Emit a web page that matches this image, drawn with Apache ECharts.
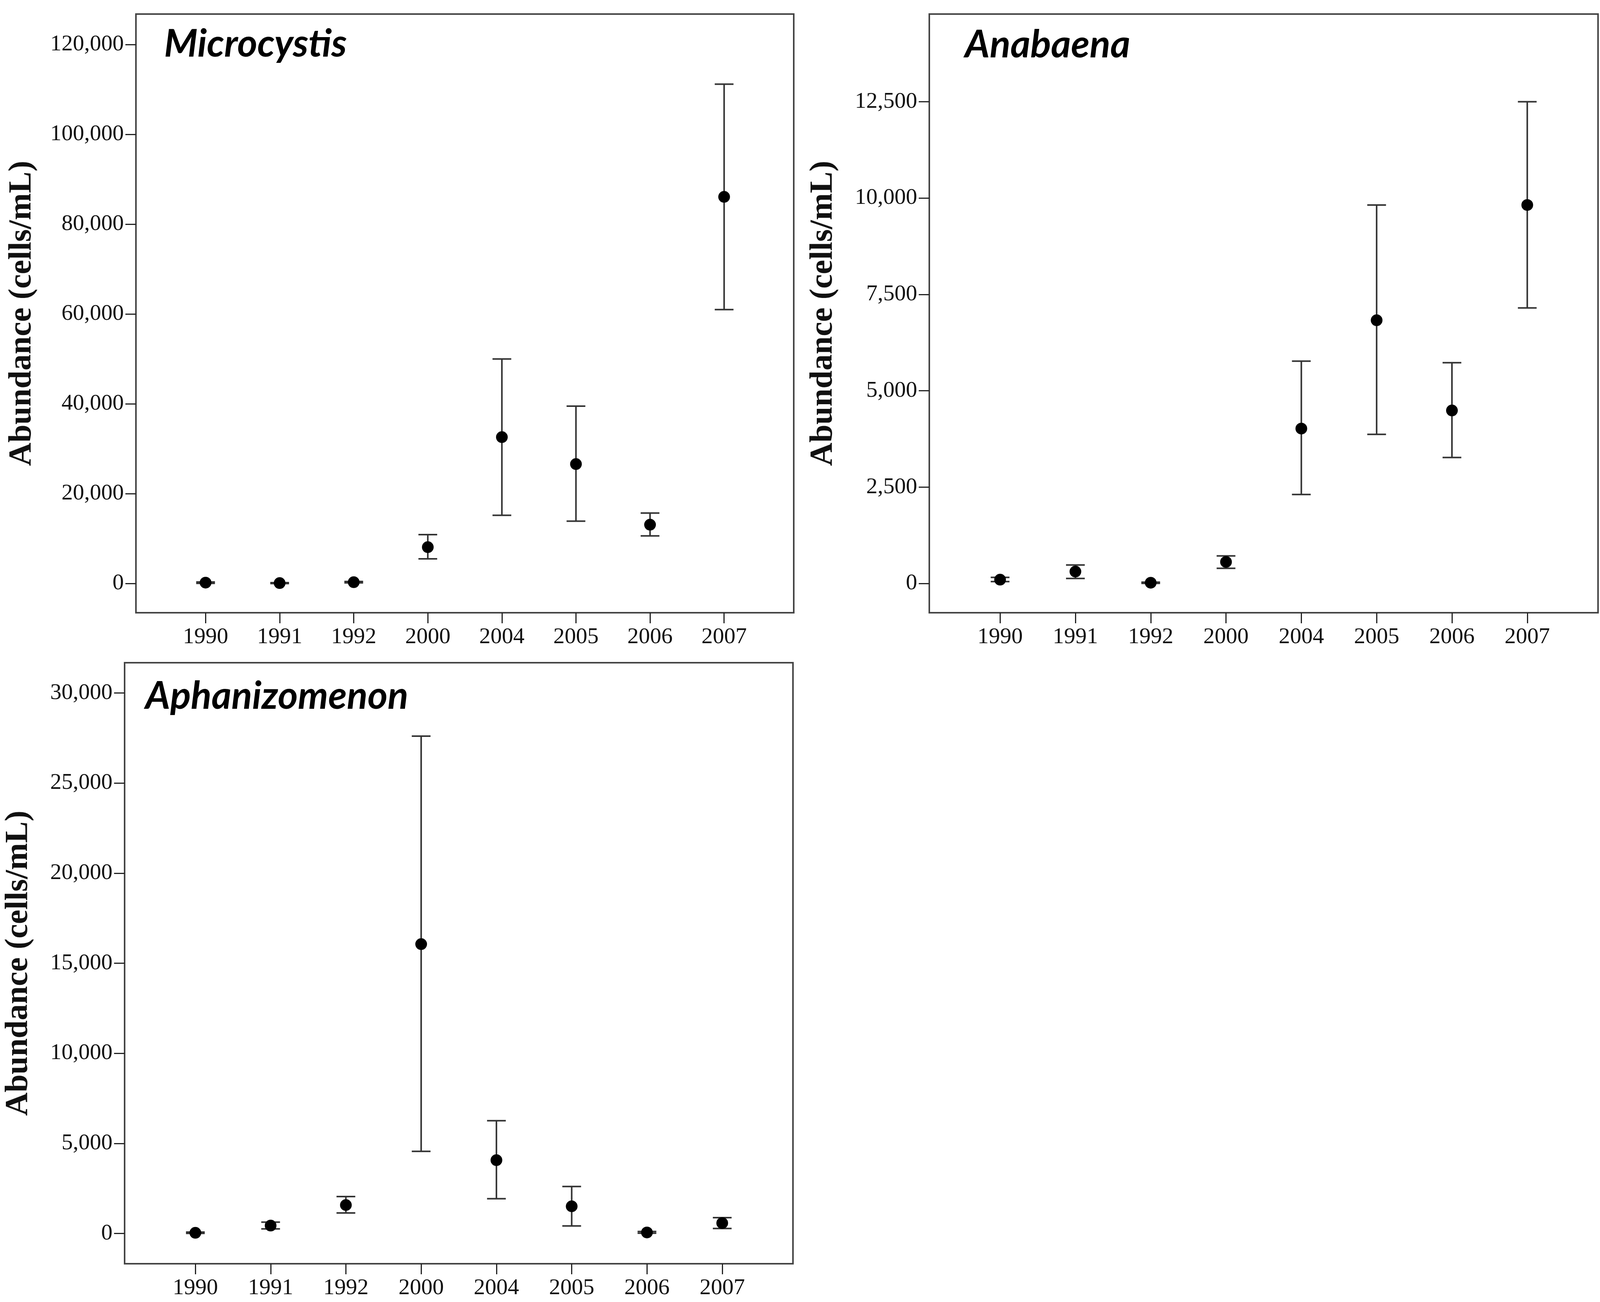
<!DOCTYPE html>
<html>
<head>
<meta charset="utf-8">
<script src="https://cdn.jsdelivr.net/npm/echarts@6/dist/echarts.min.js"></script>
<style>
html,body{margin:0;padding:0;background:#fff;}
#chart{width:4115px;height:3334px;}
</style>
</head>
<body>
<div id="chart"></div>
<script>
// ---- data ----
var years = ['1990', '1991', '1992', '2000', '2004', '2005', '2006', '2007'];

var microMean = [200, 100, 300, 8100, 32600, 26600, 13100, 86100];
var microLow  = [50, 0, 150, 5500, 15200, 13900, 10600, 61000];
var microHigh = [350, 200, 450, 10900, 50000, 39500, 15700, 111200];
var microTicks = [0, 20000, 40000, 60000, 80000, 100000, 120000];

var anaMean = [100, 310, 20, 560, 4020, 6830, 4490, 9820];
var anaLow  = [50, 130, 5, 395, 2310, 3870, 3270, 7150];
var anaHigh = [160, 480, 35, 715, 5770, 9820, 5730, 12500];
var anaTicks = [0, 2500, 5000, 7500, 10000, 12500];

var aphMean = [40, 440, 1580, 16060, 4070, 1510, 60, 580];
var aphLow  = [10, 260, 1140, 4560, 1930, 420, 20, 280];
var aphHigh = [80, 630, 2050, 27600, 6260, 2610, 110, 880];
var aphTicks = [0, 5000, 10000, 15000, 20000, 25000, 30000];

var panels = [
  { name: 'Microcystis', mean: microMean, low: microLow, high: microHigh, ticks: microTicks,
    ymin: -6500, ymax: 126800, grid: { left: 348, top: 36, width: 1684, height: 1533 },
    nameGap: 250, title: { left: 420, top: 64 } },
  { name: 'Anabaena', mean: anaMean, low: anaLow, high: anaHigh, ticks: anaTicks,
    ymin: -758, ymax: 14774, grid: { left: 2379, top: 36, width: 1712, height: 1533 },
    nameGap: 230, title: { left: 2470, top: 66 } },
  { name: 'Aphanizomenon', mean: aphMean, low: aphLow, high: aphHigh, ticks: aphTicks,
    ymin: -1676, ymax: 31676, grid: { left: 319, top: 1697, width: 1711, height: 1539 },
    nameGap: 230, title: { left: 372, top: 1734 } }
];

var idx = years.map(function (y, i) { return i; });
var serif = '"Liberation Serif", "Times New Roman", Times, serif';
var axisColor = '#444';

var option = {
  animation: false, backgroundColor: '#fff',
  title: [], grid: [], xAxis: [], yAxis: [], series: []
};

panels.forEach(function (p, k) {
  option.title.push({
    text: p.name, left: p.title.left, top: p.title.top, padding: 0,
    textStyle: { fontFamily: 'Lato', fontStyle: 'italic', fontWeight: 'bold', fontSize: 98, color: '#000' }
  });
  option.grid.push({
    left: p.grid.left, top: p.grid.top, width: p.grid.width, height: p.grid.height,
    show: true, borderColor: axisColor, borderWidth: 4, backgroundColor: '#fff'
  });
  option.xAxis.push({
    type: 'value', gridIndex: k, min: -0.94, max: 7.94,
    axisLine: { show: true, onZero: false, lineStyle: { color: axisColor, width: 4 } },
    axisTick: { show: true, inside: false, length: 27, customValues: idx, lineStyle: { color: '#222', width: 3 } },
    axisLabel: { show: true, customValues: idx, margin: 34, fontFamily: serif, fontSize: 58, color: '#111',
      formatter: function (v) { return years[Math.round(v)]; } },
    splitLine: { show: false }
  });
  option.yAxis.push({
    type: 'value', gridIndex: k, min: p.ymin, max: p.ymax,
    name: 'Abundance (cells/mL)', nameLocation: 'middle', nameGap: p.nameGap, nameRotate: 90,
    nameTextStyle: { fontFamily: serif, fontWeight: 'bold', fontSize: 83, color: '#111' },
    axisLine: { show: true, onZero: false, lineStyle: { color: axisColor, width: 4 } },
    axisTick: { show: true, inside: false, length: 27, customValues: p.ticks, lineStyle: { color: '#222', width: 3 } },
    axisLabel: { show: true, customValues: p.ticks, margin: 31, fontFamily: serif, fontSize: 58, color: '#111',
      formatter: function (v) { return Math.round(v).toLocaleString('en-US'); } },
    splitLine: { show: false }
  });
  option.series.push({
    type: 'custom', xAxisIndex: k, yAxisIndex: k,
    data: idx.map(function (i) { return [i, p.low[i], p.high[i]]; }),
    renderItem: function (params, api) {
      var x = api.value(0);
      var top = api.coord([x, api.value(2)]);
      var bot = api.coord([x, api.value(1)]);
      var hw = 24;
      var st = { stroke: '#333', lineWidth: 4 };
      return { type: 'group', children: [
        { type: 'line', shape: { x1: top[0], y1: top[1], x2: bot[0], y2: bot[1] }, style: st },
        { type: 'line', shape: { x1: top[0] - hw, y1: top[1], x2: top[0] + hw, y2: top[1] }, style: st },
        { type: 'line', shape: { x1: bot[0] - hw, y1: bot[1], x2: bot[0] + hw, y2: bot[1] }, style: st }
      ] };
    },
    z: 2
  });
  option.series.push({
    type: 'scatter', xAxisIndex: k, yAxisIndex: k,
    data: idx.map(function (i) { return [i, p.mean[i]]; }),
    symbol: 'circle', symbolSize: 30, itemStyle: { color: '#000', opacity: 1 }, z: 3
  });
});

var chart = echarts.init(document.getElementById('chart'));
chart.setOption(option);
</script>
</body>
</html>
